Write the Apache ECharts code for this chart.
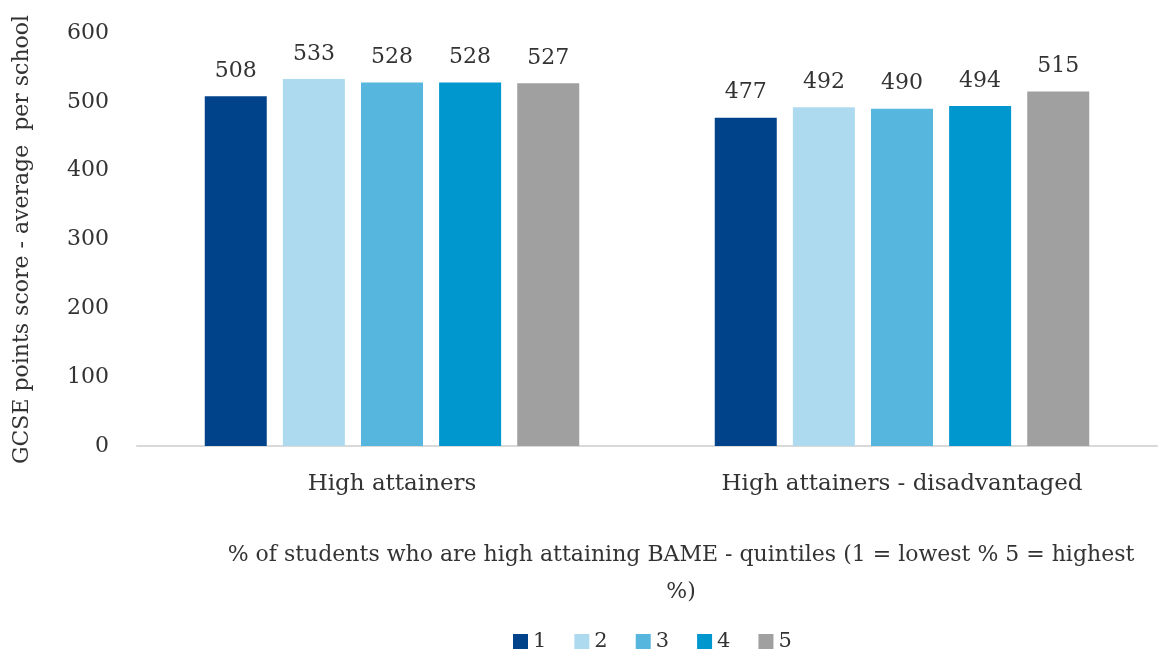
<!DOCTYPE html>
<html>
<head>
<meta charset="utf-8">
<script src="https://cdn.jsdelivr.net/npm/echarts@6/dist/echarts.min.js"></script>
<style>
  html, body { margin: 0; padding: 0; background: #fff; }
  #chart { width: 1159px; height: 652px; }
</style>
</head>
<body>
<div id="chart"></div>
<script>
// categories and quintile series
var categories = ["High attainers", "High attainers - disadvantaged"];
var quintiles = ["1", "2", "3", "4", "5"];
var q1 = [508, 477];
var q2 = [533, 492];
var q3 = [528, 490];
var q4 = [528, 494];
var q5 = [527, 515];
var yTicks = [0, 100, 200, 300, 400, 500, 600];

var colors = ["#00438a", "#addaef", "#57b6dd", "#0096ce", "#a0a0a0"];
var font = "DejaVu Serif";

function mkSeries(name, data, color) {
  return {
    name: name,
    type: "bar",
    data: data,
    barWidth: 62,
    barGap: "26%",
    itemStyle: { color: color },
    label: {
      show: true,
      position: "top",
      distance: 14,
      color: "#333",
      fontFamily: font,
      fontSize: 22
    }
  };
}

var chart = echarts.init(document.getElementById("chart"));
chart.setOption({
  animation: false,
  color: colors,
  title: {
    text: "% of students who are high attaining BAME - quintiles (1 = lowest % 5 = highest\n%)",
    left: 676,
    top: 532,
    textAlign: "center",
    textStyle: {
      fontFamily: font,
      fontWeight: "normal",
      fontSize: 22,
      lineHeight: 37,
      color: "#333"
    }
  },
  legend: {
    top: 626,
    left: 508,
    itemWidth: 15,
    itemHeight: 15,
    itemGap: 28,
    icon: "rect",
    textStyle: { fontFamily: font, fontSize: 21, color: "#333" },
    data: quintiles
  },
  grid: { left: 137, right: 2, top: 33, bottom: 206, containLabel: false },
  xAxis: {
    type: "category",
    data: categories,
    axisLine: { lineStyle: { color: "#d9d9d9", width: 2 } },
    axisTick: { show: false },
    axisLabel: { color: "#333", fontFamily: font, fontSize: 23, margin: 27 }
  },
  yAxis: {
    type: "value",
    min: yTicks[0],
    max: yTicks[yTicks.length - 1],
    interval: 100,
    name: "GCSE points score - average  per school",
    nameLocation: "middle",
    nameRotate: 90,
    nameGap: 104,
    nameTextStyle: { color: "#333", fontFamily: font, fontSize: 22 },
    axisLine: { show: false },
    axisTick: { show: false },
    splitLine: { show: false },
    axisLabel: { color: "#333", fontFamily: font, fontSize: 22, margin: 28 }
  },
  series: [
    mkSeries(quintiles[0], q1, colors[0]),
    mkSeries(quintiles[1], q2, colors[1]),
    mkSeries(quintiles[2], q3, colors[2]),
    mkSeries(quintiles[3], q4, colors[3]),
    mkSeries(quintiles[4], q5, colors[4])
  ]
});
</script>
</body>
</html>
